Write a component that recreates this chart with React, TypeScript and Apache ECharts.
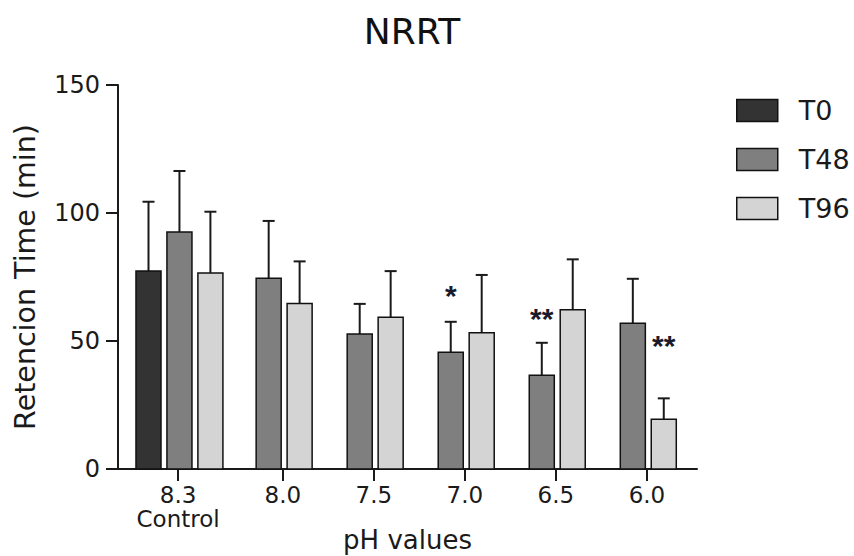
import React, { useEffect, useRef } from "react";
import * as echarts from "echarts";

// ---- data ----
const categories = ["8.3\nControl", "8.0", "7.5", "7.0", "6.5", "6.0"];
const seriesNames = ["T0", "T48", "T96"];
const t0Values: (number | null)[] = [77.3, null, null, null, null, null];
const t0Errors: (number | null)[] = [27.1, null, null, null, null, null];
const t48Values: (number | null)[] = [92.6, 74.5, 52.7, 45.6, 36.6, 56.9];
const t48Errors: (number | null)[] = [23.8, 22.4, 11.8, 11.9, 12.7, 17.4];
const t96Values: (number | null)[] = [76.6, 64.6, 59.3, 53.2, 62.2, 19.4];
const t96Errors: (number | null)[] = [23.9, 16.5, 18.0, 22.6, 19.7, 8.2];
const t48Significance = ["", "", "", "*", "**", ""];
const t48SignificanceHeight: (number | null)[] = [null, null, null, 70.7, 61.5, null];
const t96Significance = ["", "", "", "", "", "**"];
const t96SignificanceHeight: (number | null)[] = [null, null, null, null, null, 50.8];
const yTicks = [0, 50, 100, 150];

// ---- layout (not data) ----
const GROUP_POS = [0, 1.15, 2.15, 3.15, 4.15, 5.15];
const X_MIN = -0.66;
const X_MAX = 5.7;
const SLOT = 0.34;
const BAR_W = 0.275;
const COLORS = ["#333333", "#7f7f7f", "#d4d4d4"];
const FONT = "DejaVu Sans, sans-serif";
const STAR_FONT = "Liberation Sans, Arial, sans-serif";
const TEXT = "#1a1a1a";

function offsetFor(group: number, slot: number): number {
  if (group === 0) return (slot - 1) * SLOT + 0.015;
  return (slot - 1.5) * SLOT + 0.015;
}

function makeSeries(
  slot: number,
  values: (number | null)[],
  errors: (number | null)[],
  sig: string[] | null,
  sigH: (number | null)[] | null
) {
  const data: any[] = [];
  values.forEach((v, i) => {
    if (v == null) return;
    data.push([GROUP_POS[i], v, errors[i] ?? 0, i, sigH && sigH[i] != null ? sigH[i] : 0]);
  });
  return {
    name: seriesNames[slot],
    type: "custom",
    itemStyle: { color: COLORS[slot], borderColor: "#111", borderWidth: 1.5 },
    data,
    renderItem: (params: any, api: any) => {
      const x = api.value(0);
      const y = api.value(1);
      const e = api.value(2);
      const gi = api.value(3);
      const sh = api.value(4);
      const unit = api.size([1, 0])[0];
      const base = api.coord([x, 0]);
      const cx = base[0] + offsetFor(gi, slot) * unit;
      const top = api.coord([x, y])[1];
      const eTop = api.coord([x, y + e])[1];
      const bw = BAR_W * unit;
      const cap = 6;
      const children: any[] = [
        {
          type: "line",
          shape: { x1: cx, y1: top, x2: cx, y2: eTop },
          style: { stroke: "#1a1a1a", lineWidth: 2 },
        },
        {
          type: "line",
          shape: { x1: cx - cap, y1: eTop, x2: cx + cap, y2: eTop },
          style: { stroke: "#1a1a1a", lineWidth: 2 },
        },
        {
          type: "rect",
          shape: { x: cx - bw / 2, y: top, width: bw, height: base[1] - top },
          style: { fill: COLORS[slot], stroke: "#111", lineWidth: 1.5 },
        },
      ];
      if (sig && sig[gi]) {
        const sy = api.coord([x, sh])[1];
        children.push({
          type: "text",
          x: cx,
          y: sy + 7,
          style: {
            text: sig[gi],
            fontSize: 30,
            fontWeight: "bold",
            fontFamily: STAR_FONT,
            fill: "#1a1a2a",
            align: "center",
            verticalAlign: "middle",
          },
        });
      }
      return { type: "group", children };
    },
  };
}

export default function App() {
  const ref = useRef<HTMLDivElement>(null);
  useEffect(() => {
    if (!ref.current) return;
    const chart = echarts.init(ref.current, null, { renderer: "svg" });
    chart.setOption({
      animation: false,
      backgroundColor: "#ffffff",
      title: {
        text: "NRRT",
        left: 407,
        top: 8,
        textAlign: "center",
        textStyle: { fontSize: 36, fontWeight: "normal", color: "#111", fontFamily: FONT },
      },
      legend: {
        orient: "vertical",
        left: 736,
        top: 97,
        padding: 0,
        itemWidth: 41,
        itemHeight: 22,
        itemGap: 22,
        icon: "rect",
        data: seriesNames,
        itemStyle: { borderColor: "#111", borderWidth: 1.5 },
        textStyle: { fontSize: 27, color: TEXT, fontFamily: FONT, padding: [0, 0, 0, 16] },
        selectedMode: false,
      },
      grid: { left: 118, right: 157, top: 85, bottom: 87, outerBoundsMode: "none" },
      xAxis: {
        type: "value",
        min: X_MIN,
        max: X_MAX,
        splitLine: { show: false },
        axisLine: { show: true, onZero: false, lineStyle: { color: "#1a1a1a", width: 2 } },
        axisTick: {
          show: true,
          customValues: GROUP_POS,
          length: 12,
          lineStyle: { color: "#1a1a1a", width: 2 },
        },
        axisLabel: {
          customValues: GROUP_POS,
          margin: 14,
          fontSize: 23,
          lineHeight: 24,
          color: TEXT,
          fontFamily: FONT,
          formatter: (v: number) => {
            const i = GROUP_POS.findIndex((p) => Math.abs(p - v) < 1e-6);
            return i >= 0 ? categories[i] : "";
          },
        },
        name: "pH values",
        nameLocation: "middle",
        nameGap: 58,
        nameMoveOverlap: false,
        nameTextStyle: { fontSize: 26, lineHeight: 26, color: TEXT, fontFamily: FONT },
      },
      yAxis: {
        type: "value",
        min: yTicks[0],
        max: yTicks[yTicks.length - 1],
        interval: 50,
        splitLine: { show: false },
        axisLine: { show: true, onZero: false, lineStyle: { color: "#1a1a1a", width: 2 } },
        axisTick: { show: true, length: 12, lineStyle: { color: "#1a1a1a", width: 2 } },
        axisLabel: { fontSize: 24, color: TEXT, fontFamily: FONT, margin: 18 },
        name: "Retencion Time (min)",
        nameLocation: "middle",
        nameRotate: 90,
        nameGap: 78,
        nameMoveOverlap: false,
        nameTextStyle: { fontSize: 28.5, color: TEXT, fontFamily: FONT },
      },
      series: [
        makeSeries(0, t0Values, t0Errors, null, null),
        makeSeries(1, t48Values, t48Errors, t48Significance, t48SignificanceHeight),
        makeSeries(2, t96Values, t96Errors, t96Significance, t96SignificanceHeight),
      ],
    });
    return () => chart.dispose();
  }, []);
  return (
    <div
      ref={ref}
      style={{ position: "fixed", left: 0, top: 0, width: 854, height: 556 }}
    />
  );
}
